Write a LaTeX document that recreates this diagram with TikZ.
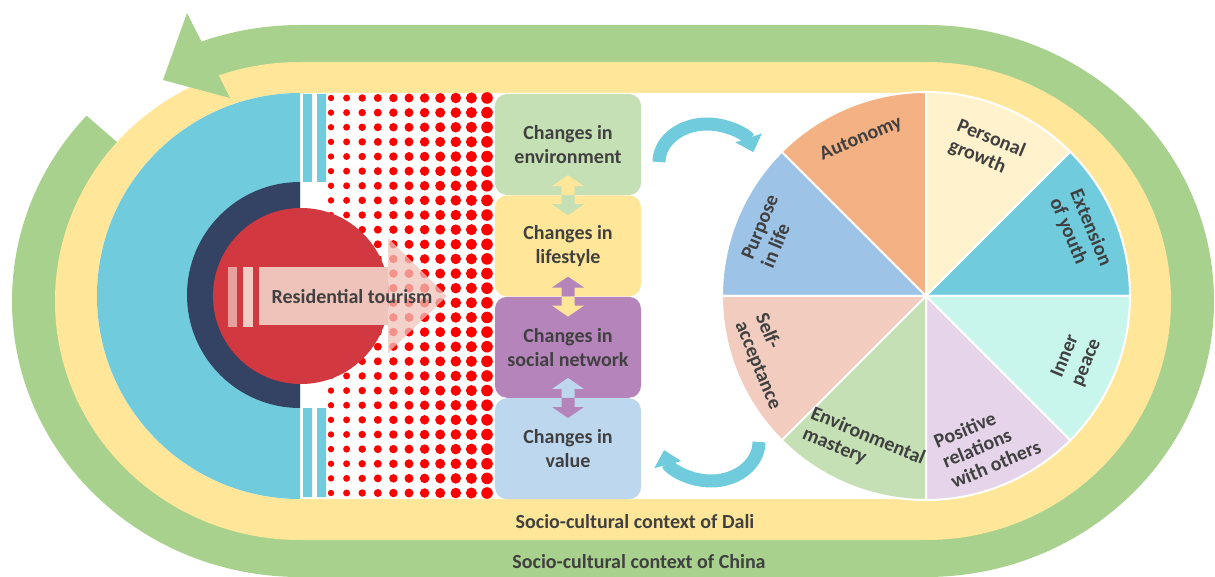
\documentclass[tikz,border=0pt]{standalone}
\usepackage{fontspec}
\setmainfont{Carlito}
\usetikzlibrary{positioning,calc,arrows.meta}
\definecolor{cgreen}{HTML}{A9D18E}
\definecolor{cyellow}{HTML}{FFE699}
\definecolor{cblue}{HTML}{70CBDD}
\definecolor{cnavy}{HTML}{344263}
\definecolor{cred}{HTML}{D1383F}
\definecolor{cpink}{HTML}{EEC3BA}
\definecolor{cenv}{HTML}{C5E0B4}
\definecolor{clife}{HTML}{FFE699}
\definecolor{csoc}{HTML}{B584BB}
\definecolor{cval}{HTML}{BDD7EE}
\definecolor{ctext}{HTML}{404040}
\definecolor{cauto}{HTML}{F4B183}
\definecolor{cgrow}{HTML}{FFF2CC}
\definecolor{cpeace}{HTML}{C8F6EC}
\definecolor{crel}{HTML}{E6D5EA}
\definecolor{cself}{HTML}{F1CCBF}
\definecolor{cpurp}{HTML}{9DC3E6}
\begin{document}
\begin{tikzpicture}[x=1pt,y=1pt,
  box/.style={rounded corners=12pt,minimum width=146pt,minimum height=101pt,inner sep=0pt,align=center,text=ctext,font=\fontsize{20}{24}\selectfont\bfseries},
  petal/.style={align=left,inner sep=0pt,text=ctext,font=\fontsize{20}{22}\selectfont\bfseries},
  ctx/.style={inner sep=0pt,text=ctext,font=\fontsize{20}{24}\selectfont\bfseries},
  cycarrow/.style={cblue,line width=13pt,-{Triangle[width=27pt,length=15pt]}}]
\useasboundingbox (0,0) rectangle (1215,576);
% context bands
\fill[cgreen] (300,551) -- (926,551) arc[start angle=90,end angle=-90,x radius=288,y radius=276] -- (300,-1) arc[start angle=270,end angle=90,x radius=288,y radius=276] -- cycle;
\fill[white] (300,275) -- ($(300,275)+(111:420)$) -- ($(300,275)+(139:420)$) -- cycle;
\fill[cyellow] (300,514) -- (926,514) arc[start angle=90,end angle=-90,x radius=245,y radius=239] -- (300,36) arc[start angle=270,end angle=90,x radius=245,y radius=239] -- cycle;
\fill[white] (300,483) -- (926,483) arc[start angle=90,end angle=-90,radius=203] -- (300,77) arc[start angle=270,end angle=90,radius=203] -- cycle;
\fill[cgreen] (187,563) -- (163,496) -- (230,478) -- cycle;
% dots
\foreach \i in {0,...,10}
  \foreach \j in {0,...,27}
    \fill[red] ({331+15.6*\i},{478-14.63*\j}) circle[radius=3.2+0.26*\i];
% left half
\fill[cblue] (300,483) arc[start angle=90,end angle=270,radius=203] -- cycle;
\fill[cblue] (303,394) rectangle (312,482) (317,394) rectangle (326,482);
\fill[cblue] (303,79) rectangle (312,168) (317,79) rectangle (326,168);
\fill[cnavy] (300,394) arc[start angle=90,end angle=270,radius=113] -- cycle;
\fill[cred] (301,280) circle[radius=88];
\fill[cpink!75!cred] (228,249) rectangle (237,309);
\fill[cpink!85!white] (243,249) rectangle (253,309);
\fill[cpink] (259,251) rectangle (388,309);
\fill[cpink,opacity=0.75] (388,338) -- (447,280) -- (388,223) -- cycle;
\node[ctx] (tour) at (352,279) {Residential tourism};
% changes
\node[box,fill=cenv] (env) at (568,431.5) {Changes in\\environment};
\node[box,fill=clife,below=0pt of env] (life) {Changes in\\lifestyle};
\node[box,fill=csoc,below=0pt of life] (soc) {Changes in\\social network};
\node[box,fill=cval,below=0pt of soc] (val) {Changes in\\value};
\foreach \a/\b in {env/life,life/soc,soc/val}{
  \begin{scope}[shift={(\a.south)}]
    \fill[fill=c\b] (0,20) -- (16,9) -- (6.5,9) -- (6.5,0) -- (-6.5,0) -- (-6.5,9) -- (-16,9) -- cycle;
    \fill[fill=c\a] (0,-20) -- (16,-9) -- (6.5,-9) -- (6.5,0) -- (-6.5,0) -- (-6.5,-9) -- (-16,-9) -- cycle;
  \end{scope}}
\draw[cycarrow] (659,414) arc[start angle=180,end angle=15,x radius=48,y radius=38];
\draw[cycarrow] (759,134) arc[start angle=0,end angle=-168,x radius=48,y radius=39];
% wellbeing wheel
\coordinate (pie) at (926,280);
\foreach \s/\col in {135/cpurp,90/cauto,45/cgrow,0/cblue,-45/cpeace,-90/crel,-135/cenv,180/cself}
  \filldraw[fill=\col,draw=white,line width=2pt] (pie) -- ++(\s:204) arc[start angle=\s,end angle=\s+45,radius=204] -- cycle;
\foreach \m/\r/\rot/\nm/\t in {157.5/169/67.5/purpose/{Purpose\\in life},
    112.5/170/22.5/autonomy/Autonomy,
    67.5/159/-22.5/growth/{Personal\\growth},
    22.5/167/-67.5/youth/{Extension\\of youth},
    -22.5/163/67.5/peace/{Inner\\peace},
    -67.5/160/22.5/relations/{Positive\\relations\\with others},
    -112.5/163/-22.5/mastery/{Environmental\\mastery},
    -157.5/171/-67.5/accept/{Self-\\acceptance}}
  \node[petal,rotate=\rot] (\nm) at ($(pie)+(\m:\r)$) {\t};
% contexts
\node[ctx] (dali) at (635,54.5) {Socio-cultural context of Dali};
\node[ctx] (china) at (639,14.5) {Socio-cultural context of China};
\end{tikzpicture}
\end{document}
